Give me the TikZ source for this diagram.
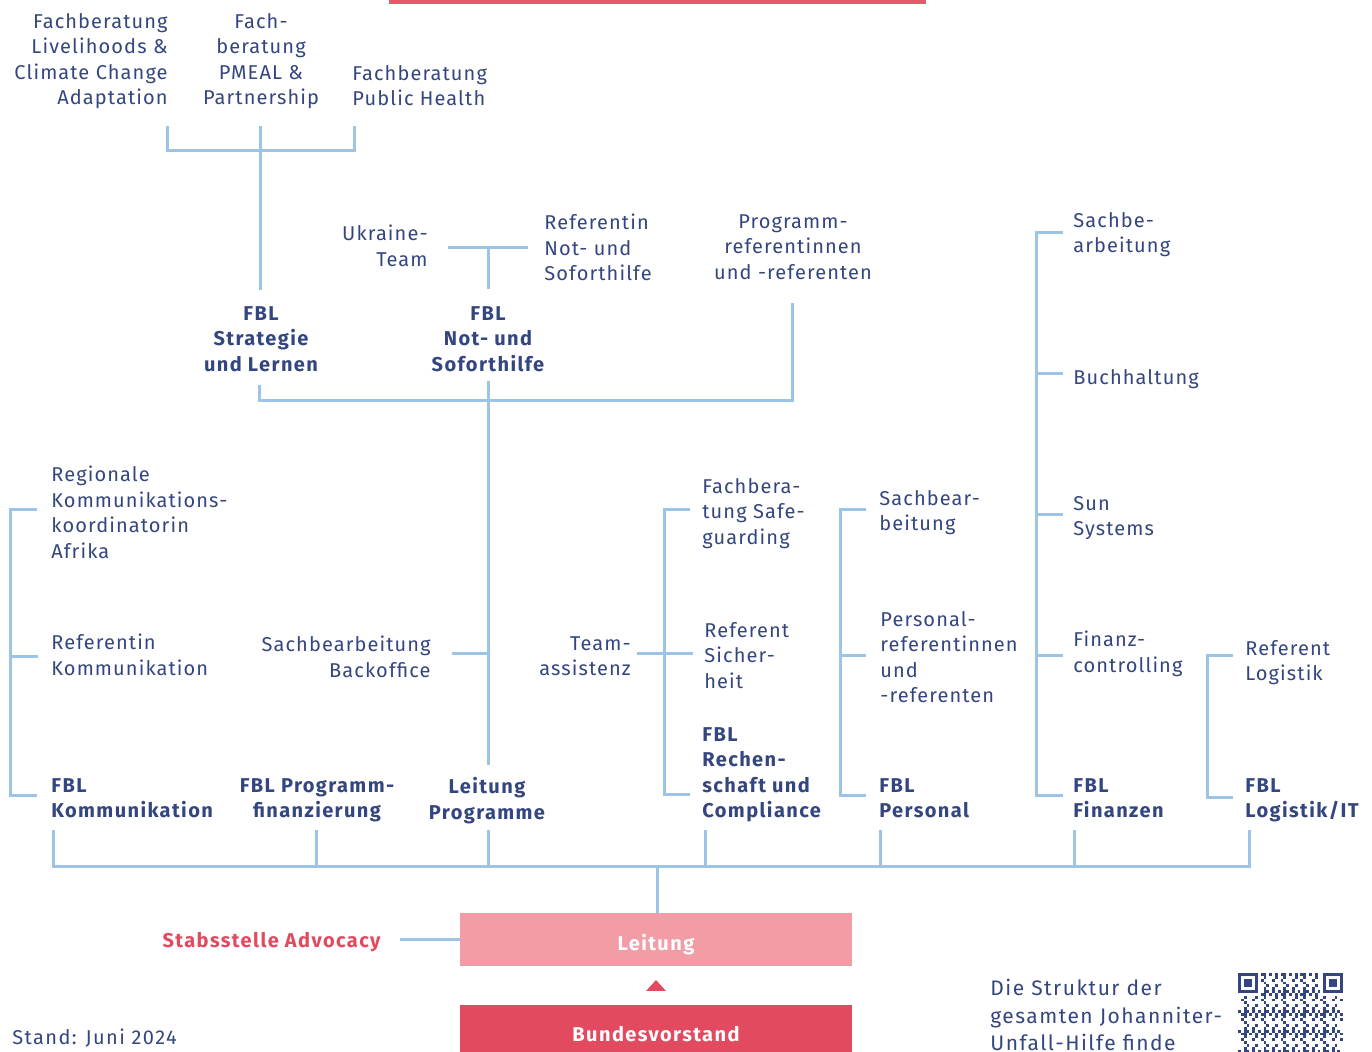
\documentclass[tikz,border=0pt]{standalone}
\usepackage{fontspec}
\setmainfont{Fira Sans}[LetterSpace=5.5]
\definecolor{navy}{HTML}{34467F}
\definecolor{lblue}{HTML}{9DC3E6}
\definecolor{jred}{HTML}{E24A5F}
\definecolor{jpink}{HTML}{F29CA6}
\definecolor{topred}{HTML}{E8596C}
\tikzset{
  txt/.style={font=\fontsize{10}{12.75}\selectfont, text=navy, inner sep=0pt, execute at begin node=\strut},
  bld/.style={font=\fontsize{10}{12.75}\selectfont\bfseries\addfontfeatures{LetterSpace=7}},
  wide/.style={font=\fontsize{10}{12.75}\selectfont\addfontfeatures{LetterSpace=7}},
  lt/.style={txt, anchor=north west, align=left},
  rt/.style={txt, anchor=north east, align=right},
  ct/.style={txt, anchor=north, align=center},
  conn/.style={draw=lblue, line width=1.5pt},
  box/.style={rectangle, inner sep=0pt, minimum width=196pt, text=white, font=\fontsize{10}{12.75}\selectfont\bfseries\addfontfeatures{LetterSpace=7}}
}
\begin{document}
\begin{tikzpicture}[x=0.5pt,y=-0.5pt]
\clip (0,0) rectangle (1372,1052);
\fill[white] (0,0) rectangle (1372,1052);
\fill[topred] (389,0) rectangle (926,4);

% top group
\node[rt] (fb1) at (168,13) {Fachberatung\\Livelihoods \&\\Climate Change\\Adaptation};
\node[ct] (fb2) at (261,13) {Fach-\\beratung\\PMEAL \&\\Partnership};
\node[lt] (fb3) at (352,65) {Fachberatung\\Public Health};
\node[ct,bld] (fblstrat) at (261,306) {FBL\\Strategie\\und Lernen};
\node[ct,bld] (fblnot) at (488,306) {FBL\\Not- und\\Soforthilfe};
\node[rt] (ukraine) at (428,225) {Ukraine-\\Team};
\node[lt] (refnot) at (544,214) {Referentin\\Not- und\\Soforthilfe};
\node[ct] (progref) at (793,214) {Programm-\\referentinnen\\und -referenten};

% left column
\node[lt] (regional) at (51,466) {Regionale\\Kommunikations-\\koordinatorin\\Afrika};
\node[lt] (refkomm) at (51,634) {Referentin\\Kommunikation};
\node[lt,bld] (fblkomm) at (51,778) {FBL\\Kommunikation};
\node[rt] (backoffice) at (431,636) {Sachbearbeitung\\Backoffice};
\node[ct,bld] (fblprogfin) at (317,778) {FBL Programm-\\finanzierung};
\node[ct,bld] (leitprog) at (487,777) {Leitung\\Programme};

% Rechenschaft
\node[rt] (teamass) at (631,636) {Team-\\assistenz};
\node[lt] (safeg) at (702,478) {Fachbera-\\tung Safe-\\guarding};
\node[lt] (refsich) at (704,622) {Referent\\Sicher-\\heit};
\node[lt,bld] (fblrech) at (702,727) {FBL\\Rechen-\\schaft und\\Compliance};

% Personal
\node[lt] (sachbear) at (879,490) {Sachbear-\\beitung};
\node[lt] (persref) at (880,611) {Personal-\\referentinnen\\und\\-referenten};
\node[lt,bld] (fblpers) at (879,778) {FBL\\Personal};

% Finanzen
\node[lt] (sachbe2) at (1073,212) {Sachbe-\\arbeitung};
\node[lt] (buch) at (1073,366) {Buchhaltung};
\node[lt] (sun) at (1073,496) {Sun\\Systems};
\node[lt] (finanz) at (1073,631) {Finanz-\\controlling};
\node[lt,bld] (fblfin) at (1073,778) {FBL\\Finanzen};

% Logistik
\node[lt] (reflog) at (1245,640) {Referent\\Logistik};
\node[lt,bld] (fbllog) at (1245,778) {FBL\\Logistik/IT};

% bottom
\node[box, fill=jpink, minimum height=26.5pt] (leitung) at (656,939.5) {\raisebox{-5.3pt}[0pt][0pt]{Leitung}};
\node[box, fill=jred, minimum height=29pt] (bv) at (656,1034) {Bundesvorstand};
\node[rt,bld,text=jred] (advocacy) at (381,929) {Stabsstelle Advocacy};
\node[lt,wide] (stand) at (12,1026) {Stand: Juni 2024};
\node[lt, font=\fontsize{10.5}{13.75}\selectfont\addfontfeatures{LetterSpace=7}] (struktur) at (990,979) {Die Struktur der\\gesamten Johanniter-\\Unfall-Hilfe finde};
\fill[jred] (646,991) -- (656,980) -- (666,991) -- cycle;

% connectors
\draw[conn] (167,126) -- (167,151) -- (354,151) -- (354,126);
\draw[conn] (260,126) -- (260,290);
\draw[conn] (448,248) -- (528,248);
\draw[conn] (488,248) -- (488,289);
\draw[conn] (792,303) -- (792,401) -- (259,401) -- (259,385);
\draw[conn] (488,381) -- (488,765);
\draw[conn] (452,654) -- (488,654);
\draw[conn] (37,510) -- (10,510) -- (10,796) -- (37,796);
\draw[conn] (10,657) -- (38,657);
\draw[conn] (637,654) -- (693,654);
\draw[conn] (690,510) -- (664,510) -- (664,795) -- (690,795);
\draw[conn] (866,510) -- (840,510) -- (840,796) -- (866,796);
\draw[conn] (840,656) -- (866,656);
\draw[conn] (1063,233) -- (1036,233) -- (1036,796) -- (1063,796);
\foreach \yy in {374,515,656} \draw[conn] (1036,\yy) -- (1063,\yy);
\draw[conn] (1233,656) -- (1207,656) -- (1207,798) -- (1233,798);
\draw[conn] (53,830) -- (53,867) -- (1249,867) -- (1249,830);
\foreach \xx in {316,488,705,880,1074} \draw[conn] (\xx,830) -- (\xx,867);
\draw[conn] (657,867) -- (leitung.north -| 657,0);
\draw[conn] (400,940) -- (leitung.west |- 0,940);

% QR code
\def\qm{2.84}
\foreach \i in {0,...,36}{
  \foreach \j in {0,...,27}{
    \pgfmathtruncatemacro\qv{mod(\i*\i+\j*\j*3+\i*\j*2+\i*11+\j*13+17,7)}
    \pgfmathtruncatemacro\qsk{or(and(\i<8,\j<8),and(\i>28,\j<8))}
    \ifnum\qsk=0 \ifnum\qv<3 \fill[navy] (1238+\i*\qm,973+\j*\qm) rectangle ++(\qm,\qm); \fi\fi
  }
}
\foreach \fx in {1238,1323.2}{
  \fill[navy] (\fx,973) rectangle ++(19.88,19.88);
  \fill[white] (\fx+2.84,973+2.84) rectangle ++(14.2,14.2);
  \fill[navy] (\fx+5.68,973+5.68) rectangle ++(8.52,8.52);
}
\end{tikzpicture}
\end{document}
